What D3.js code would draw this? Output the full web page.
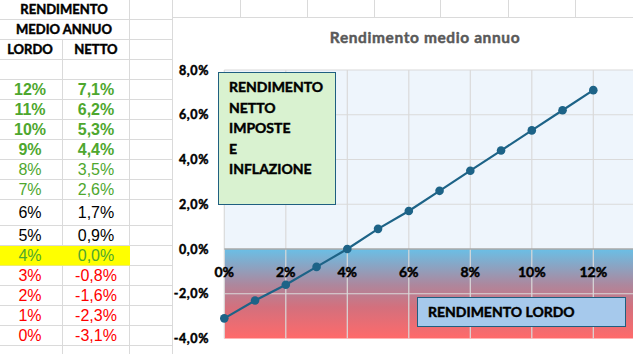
<!DOCTYPE html>
<html>
<head>
<meta charset="utf-8">
<script src="https://cdn.jsdelivr.net/npm/d3@7"></script>
<style>
  html, body { margin: 0; padding: 0; background: #fff; overflow: hidden; }
  svg { display: block; }
  .heavy { stroke-width: 0.45px; paint-order: stroke; }
</style>
</head>
<body>
<svg id="chart"></svg>
<script>
// data read from the sheet
const grossReturns = [0, 1, 2, 3, 4, 5, 6, 7, 8, 9, 10, 11, 12];
const netReturns = [-3.1, -2.3, -1.6, -0.8, 0.0, 0.9, 1.7, 2.6, 3.5, 4.4, 5.3, 6.2, 7.1];
const xTicks = [0, 2, 4, 6, 8, 10, 12];
const yTicks = [-4, -2, 0, 2, 4, 6, 8];
const tableHeader = ['RENDIMENTO', 'MEDIO ANNUO'];
const columnHeaders = ['LORDO', 'NETTO'];
const chartTitle = 'Rendimento medio annuo';
const netLabel = ['RENDIMENTO', 'NETTO', 'IMPOSTE', 'E', 'INFLAZIONE'];
const grossLabel = 'RENDIMENTO LORDO';

const width = 633;
const height = 354;
const gridColor = '#dadada';
const lineColor = '#1d6387';
const uiFont = 'Lato, "Open Sans", sans-serif';
const cellFont = '"Liberation Sans", Arial, sans-serif';

const svg = d3.select('#chart')
    .attr('width', width)
    .attr('height', height);

// spreadsheet grid
const rowEdges = [19, 39, 59, 79, 99, 119, 139, 159, 179, 199, 225, 245, 265, 285, 305, 325, 345];
const sheet = svg.append('g');

sheet.selectAll('.hline')
    .data(rowEdges)
    .enter().append('line')
    .attr('x1', 0).attr('x2', 172)
    .attr('y1', d => d + 0.5).attr('y2', d => d + 0.5)
    .attr('stroke', gridColor);

sheet.append('line')
    .attr('x1', 62.5).attr('x2', 62.5).attr('y1', 39).attr('y2', height)
    .attr('stroke', gridColor);
sheet.append('line')
    .attr('x1', 129.5).attr('x2', 129.5).attr('y1', 0).attr('y2', height)
    .attr('stroke', gridColor);

// columns above the chart
[172, 240, 307, 374, 440, 508, 575].forEach(x => {
    sheet.append('line')
        .attr('x1', x + 0.5).attr('x2', x + 0.5).attr('y1', 0).attr('y2', 17)
        .attr('stroke', gridColor);
});

// header text
tableHeader.forEach((t, i) => {
    sheet.append('text')
        .attr('class', 'heavy')
        .attr('x', 64).attr('y', 14 + i * 20)
        .attr('text-anchor', 'middle')
        .style('font', `bold 13px ${uiFont}`)
        .attr('fill', '#000').attr('stroke', '#000')
        .text(t);
});
columnHeaders.forEach((t, i) => {
    sheet.append('text')
        .attr('class', 'heavy')
        .attr('x', i === 0 ? 30 : 96).attr('y', 54)
        .attr('text-anchor', 'middle')
        .style('font', `bold 13px ${uiFont}`)
        .attr('fill', '#000').attr('stroke', '#000')
        .text(t);
});

// table rows, highest gross return first
const rows = grossReturns.map((g, i) => ({ gross: g, net: netReturns[i] }))
    .sort((a, b) => b.gross - a.gross);

function cellStyle(g) {
    if (g >= 9) return { color: '#4ea72e', weight: 'bold' };
    if (g >= 7) return { color: '#4ea72e', weight: 'normal' };
    if (g >= 5) return { color: '#000', weight: 'normal' };
    if (g === 4) return { color: '#4ea72e', weight: 'normal', fill: '#ffff00' };
    return { color: '#ff0000', weight: 'normal' };
}

const fmtNet = v => v.toFixed(1).replace('.', ',') + '%';

rows.forEach((r, i) => {
    const top = rowEdges[i + 3];
    const bottom = rowEdges[i + 4];
    const mid = (top + bottom) / 2;
    const s = cellStyle(r.gross);
    if (s.fill) {
        sheet.append('rect')
            .attr('x', 0).attr('y', top + 1)
            .attr('width', 130).attr('height', bottom - top - 0.5)
            .attr('fill', s.fill);
    }
    sheet.append('text')
        .attr('x', 30).attr('y', mid + 5.5)
        .attr('text-anchor', 'middle')
        .style('font', `${s.weight} 16px ${cellFont}`)
        .attr('fill', s.color)
        .text(r.gross + '%');
    sheet.append('text')
        .attr('x', 96).attr('y', mid + 5.5)
        .attr('text-anchor', 'middle')
        .style('font', `${s.weight} 16px ${cellFont}`)
        .attr('fill', s.color)
        .text(fmtNet(r.net));
});

// chart object
const chart = svg.append('g');
chart.append('rect')
    .attr('x', 172.5).attr('y', 17.5)
    .attr('width', 600).attr('height', 400)
    .attr('fill', '#fff')
    .attr('stroke', gridColor);

chart.append('text')
    .attr('class', 'heavy')
    .attr('x', 425).attr('y', 43)
    .attr('text-anchor', 'middle')
    .style('font', `bold 15.5px ${uiFont}`)
    .style('letter-spacing', '0.6px')
    .attr('fill', '#595959').attr('stroke', '#595959')
    .text(chartTitle);

const x = d3.scaleLinear().domain([0, 14]).range([224.3, 654.8]);
const y = d3.scaleLinear().domain([-4, 8]).range([338.5, 70]);

const defs = svg.append('defs');
const grad = defs.append('linearGradient')
    .attr('id', 'neg')
    .attr('x1', 0).attr('y1', 0).attr('x2', 0).attr('y2', 1);
grad.append('stop').attr('offset', '0%').attr('stop-color', '#6abfe6');
grad.append('stop').attr('offset', '40%').attr('stop-color', '#ad879d');
grad.append('stop').attr('offset', '65%').attr('stop-color', '#d3707d');
grad.append('stop').attr('offset', '100%').attr('stop-color', '#ff6a6a');

// positive band
chart.append('rect')
    .attr('x', x(0)).attr('y', y(8))
    .attr('width', x(14) - x(0)).attr('height', y(0) - y(8))
    .attr('fill', '#eef5fc');
// negative band
chart.append('rect')
    .attr('x', x(0)).attr('y', y(0))
    .attr('width', x(14) - x(0)).attr('height', y(-4) - y(0))
    .attr('fill', 'url(#neg)');

// gridlines
chart.append('g')
    .selectAll('line')
    .data(yTicks.filter(t => t !== 0 && t !== -4))
    .enter().append('line')
    .attr('x1', x(0)).attr('x2', x(14))
    .attr('y1', d => y(d)).attr('y2', d => y(d))
    .attr('stroke', gridColor).attr('stroke-width', 1.2);

chart.append('g')
    .selectAll('line')
    .data(xTicks)
    .enter().append('line')
    .attr('x1', d => x(d)).attr('x2', d => x(d))
    .attr('y1', y(8)).attr('y2', y(-4))
    .attr('stroke', gridColor).attr('stroke-width', 1.2);

// horizontal axis at zero
chart.append('line')
    .attr('x1', x(0)).attr('x2', x(14))
    .attr('y1', y(0)).attr('y2', y(0))
    .attr('stroke', '#a9a9a9').attr('stroke-width', 1.5);

// y tick labels
chart.append('g')
    .selectAll('text')
    .data(yTicks)
    .enter().append('text')
    .attr('class', 'heavy')
    .attr('x', 209).attr('y', d => y(d) + 4.5)
    .attr('text-anchor', 'end')
    .style('font', `bold 12.5px ${uiFont}`)
    .style('letter-spacing', '0.6px')
    .attr('fill', '#000').attr('stroke', '#000')
    .text(d => d3.format('.1f')(d).replace('.', ',').replace('−', '-') + '%');

// x tick labels sit next to the zero axis
chart.append('g')
    .selectAll('text')
    .data(xTicks)
    .enter().append('text')
    .attr('class', 'heavy')
    .attr('x', d => x(d)).attr('y', y(0) + 28)
    .attr('text-anchor', 'middle')
    .style('font', `bold 14px ${uiFont}`)
    .attr('fill', '#000').attr('stroke', '#000')
    .text(d => d + '%');

// the series
const points = grossReturns.map((g, i) => [g, netReturns[i]]);
chart.append('path')
    .datum(points)
    .attr('fill', 'none')
    .attr('stroke', lineColor)
    .attr('stroke-width', 2.2)
    .attr('d', d3.line().x(d => x(d[0])).y(d => y(d[1])));

chart.append('g')
    .selectAll('circle')
    .data(points)
    .enter().append('circle')
    .attr('cx', d => x(d[0]))
    .attr('cy', d => y(d[1]))
    .attr('r', 4.3)
    .attr('fill', lineColor);

// text boxes
chart.append('rect')
    .attr('x', 218.5).attr('y', 72.5)
    .attr('width', 117).attr('height', 132)
    .attr('fill', '#d9f2d0')
    .attr('stroke', '#1f5f80');
netLabel.forEach((t, i) => {
    chart.append('text')
        .attr('class', 'heavy')
        .attr('x', 229).attr('y', 92.3 + i * 20.5)
        .style('font', `bold 14px ${uiFont}`)
        .attr('fill', '#000').attr('stroke', '#000')
        .text(t);
});

chart.append('rect')
    .attr('x', 417.5).attr('y', 297.5)
    .attr('width', 208).attr('height', 29)
    .attr('fill', '#a6c9ec')
    .attr('stroke', '#1f5f80');
chart.append('text')
    .attr('class', 'heavy')
    .attr('x', 428).attr('y', 317.3)
    .style('font', `bold 14px ${uiFont}`)
    .attr('fill', '#000').attr('stroke', '#000')
    .text(grossLabel);
</script>
</body>
</html>
